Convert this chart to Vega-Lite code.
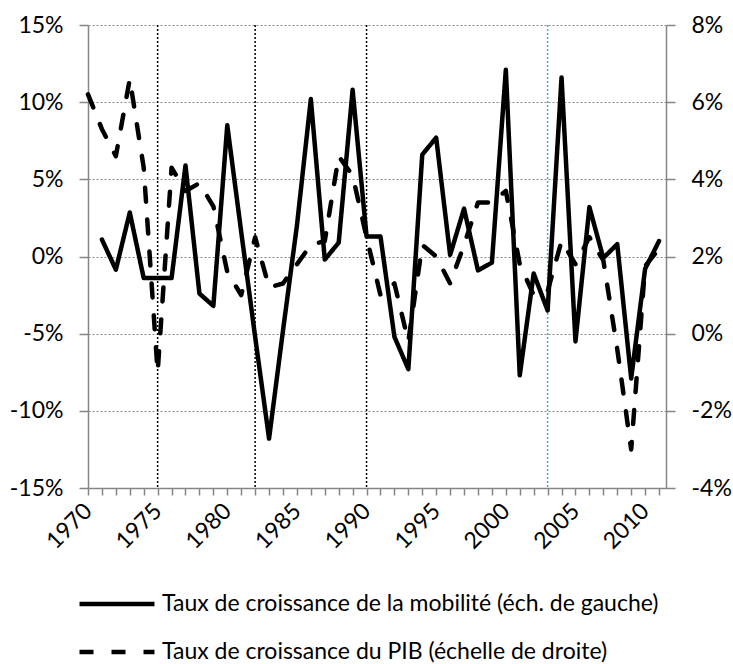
{
  "$schema": "https://vega.github.io/schema/vega-lite/v6.json",
  "width": 578,
  "height": 463,
  "autosize": {"type": "none"},
  "padding": {"left": 88, "top": 25, "right": 67, "bottom": 176},
  "background": "white",
  "config": {
    "font": "Lato",
    "view": {"stroke": null},
    "axis": {
      "labelFont": "Lato",
      "labelFontSize": 23,
      "labelColor": "#000000",
      "domainColor": "#868686",
      "domainWidth": 1.5,
      "tickColor": "#868686",
      "tickWidth": 1.5,
      "title": null
    }
  },
  "datasets": {
    "taux": [
      {"annee": 1970, "mobilite": null, "pib": 6.2},
      {"annee": 1971, "mobilite": 1.1, "pib": 5.3},
      {"annee": 1972, "mobilite": -0.85, "pib": 4.6},
      {"annee": 1973, "mobilite": 2.85, "pib": 6.6},
      {"annee": 1974, "mobilite": -1.4, "pib": 4.3},
      {"annee": 1975, "mobilite": -1.4, "pib": -1.0},
      {"annee": 1976, "mobilite": -1.4, "pib": 4.3},
      {"annee": 1977, "mobilite": 5.9, "pib": 3.7},
      {"annee": 1978, "mobilite": -2.4, "pib": 3.9},
      {"annee": 1979, "mobilite": -3.2, "pib": 3.3},
      {"annee": 1980, "mobilite": 8.5, "pib": 1.6},
      {"annee": 1981, "mobilite": 1.6, "pib": 1.0},
      {"annee": 1982, "mobilite": -5.2, "pib": 2.5},
      {"annee": 1983, "mobilite": -11.8, "pib": 1.2},
      {"annee": 1984, "mobilite": -4.8, "pib": 1.3},
      {"annee": 1985, "mobilite": 2.0, "pib": 1.8},
      {"annee": 1986, "mobilite": 10.2, "pib": 2.3},
      {"annee": 1987, "mobilite": -0.2, "pib": 2.4},
      {"annee": 1988, "mobilite": 0.9, "pib": 4.6},
      {"annee": 1989, "mobilite": 10.8, "pib": 4.1},
      {"annee": 1990, "mobilite": 1.3, "pib": 2.5},
      {"annee": 1991, "mobilite": 1.3, "pib": 1.0},
      {"annee": 1992, "mobilite": -5.2, "pib": 1.3},
      {"annee": 1993, "mobilite": -7.3, "pib": -0.2},
      {"annee": 1994, "mobilite": 6.6, "pib": 2.3},
      {"annee": 1995, "mobilite": 7.7, "pib": 2.0},
      {"annee": 1996, "mobilite": 0.1, "pib": 1.3},
      {"annee": 1997, "mobilite": 3.1, "pib": 2.3},
      {"annee": 1998, "mobilite": -0.9, "pib": 3.4},
      {"annee": 1999, "mobilite": -0.4, "pib": 3.4},
      {"annee": 2000, "mobilite": 12.1, "pib": 3.7},
      {"annee": 2001, "mobilite": -7.7, "pib": 1.8},
      {"annee": 2002, "mobilite": -1.1, "pib": 1.0},
      {"annee": 2003, "mobilite": -3.5, "pib": 1.1},
      {"annee": 2004, "mobilite": 11.6, "pib": 2.4},
      {"annee": 2005, "mobilite": -5.5, "pib": 1.8},
      {"annee": 2006, "mobilite": 3.2, "pib": 2.5},
      {"annee": 2007, "mobilite": -0.1, "pib": 1.9},
      {"annee": 2008, "mobilite": 0.8, "pib": -0.4},
      {"annee": 2009, "mobilite": -7.9, "pib": -3.0},
      {"annee": 2010, "mobilite": -0.8, "pib": 1.75},
      {"annee": 2011, "mobilite": 1.0, "pib": 2.2}
    ],
    "reperes": [
      {"annee": 1975, "groupe": "a"},
      {"annee": 1982, "groupe": "a"},
      {"annee": 1990, "groupe": "a"},
      {"annee": 2003, "groupe": "b"}
    ]
  },
  "encoding": {
    "x": {
      "field": "annee",
      "type": "quantitative",
      "scale": {"domain": [1970, 2011.5], "nice": false, "zero": false},
      "axis": {
        "values": [1970,1971,1972,1973,1974,1975,1976,1977,1978,1979,1980,1981,1982,1983,1984,1985,1986,1987,1988,1989,1990,1991,1992,1993,1994,1995,1996,1997,1998,1999,2000,2001,2002,2003,2004,2005,2006,2007,2008,2009,2010,2011],
        "format": "d",
        "labelExpr": "datum.value % 5 === 0 ? datum.label : ''",
        "labelAngle": -45,
        "labelAlign": "right",
        "labelBaseline": "middle",
        "labelPadding": 12,
        "labelDx": 13,
        "tickSize": 7,
        "grid": false,
        "labelOverlap": false
      }
    }
  },
  "layer": [
    {
      "data": {"name": "reperes"},
      "mark": {"type": "rule", "strokeDash": [2, 2], "strokeWidth": 1.5},
      "encoding": {
        "color": {"field": "groupe", "type": "nominal", "scale": {"domain": ["a", "b"], "range": ["#000000", "#4BACC6"]}, "legend": null}
      }
    },
    {
      "data": {"name": "taux"},
      "mark": {"type": "line", "color": "#000000", "strokeWidth": 4.5, "strokeJoin": "round", "strokeCap": "round"},
      "encoding": {
        "y": {
          "field": "mobilite",
          "type": "quantitative",
          "scale": {"domain": [-15, 15], "nice": false, "zero": false},
          "axis": {
            "orient": "left",
            "values": [-15, -10, -5, 0, 5, 10, 15],
            "labelExpr": "datum.value + '%'",
            "grid": true,
            "gridDash": [2, 2],
            "gridColor": "#8c8c8c",
            "gridWidth": 1.2,
            "tickSize": 9,
            "labelPadding": 16
          }
        },
        "strokeDash": {
          "datum": "Taux de croissance de la mobilité (éch. de gauche)",
          "type": "nominal",
          "scale": {
            "domain": ["Taux de croissance de la mobilité (éch. de gauche)", "Taux de croissance du PIB (échelle de droite)"],
            "range": [[1, 0], [14, 18]]
          },
          "legend": {
            "orient": "none",
            "legendX": 14,
            "legendY": 564,
            "title": null,
            "symbolType": "M-3,0H3",
            "symbolSize": 625,
            "symbolStrokeWidth": 4.5,
            "symbolStrokeColor": "#000000",
            "symbolFillColor": "transparent",
            "labelFontSize": 23,
            "labelFont": "Lato",
            "labelColor": "#000000",
            "labelOffset": 30,
            "labelLimit": 700,
            "rowPadding": 21,
            "encode": {
              "symbols": {
                "update": {
                  "strokeDash": {"signal": "datum.value === 'Taux de croissance du PIB (échelle de droite)' ? [25, 19] : [1, 0]"}
                }
              }
            }
          }
        }
      }
    },
    {
      "data": {"name": "taux"},
      "mark": {"type": "line", "color": "#000000", "strokeWidth": 4.5, "strokeJoin": "round", "strokeCap": "round"},
      "encoding": {
        "y": {
          "field": "pib",
          "type": "quantitative",
          "scale": {"domain": [-4, 8], "nice": false, "zero": false},
          "axis": {
            "orient": "right",
            "values": [-4, -2, 0, 2, 4, 6, 8],
            "labelExpr": "datum.value + '%'",
            "grid": false,
            "tickSize": 9,
            "labelPadding": 16
          }
        },
        "strokeDash": {"datum": "Taux de croissance du PIB (échelle de droite)", "type": "nominal"}
      }
    }
  ],
  "resolve": {"scale": {"y": "independent"}}
}
